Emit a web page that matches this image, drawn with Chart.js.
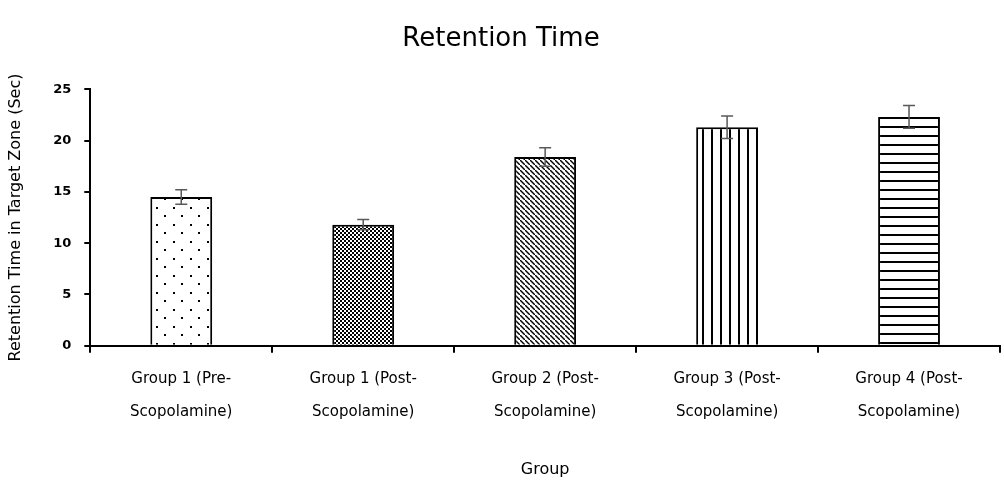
<!doctype html>
<html lang="en">
  <head>
    <meta charset="utf-8">
    <title>Retention Time</title>
    <style>
      * { margin: 0; padding: 0; }
      body { background: #fff; }
      .chartBox { width: 1004px; height: 483px; }
    </style>
  </head>
  <body>
    <div class="chartBox">
      <canvas id="myChart"></canvas>
    </div>
    <script src="https://cdn.jsdelivr.net/npm/chart.js/dist/chart.umd.min.js"></script>
    <script>
    const groups = [
      ['Group 1 (Pre-', 'Scopolamine)'],
      ['Group 1 (Post-', 'Scopolamine)'],
      ['Group 2 (Post-', 'Scopolamine)'],
      ['Group 3 (Post-', 'Scopolamine)'],
      ['Group 4 (Post-', 'Scopolamine)']
    ];
    const retention = [14.5, 11.8, 18.4, 21.3, 22.3];
    const errors = [0.7, 0.5, 0.9, 1.1, 1.1];
    const yTicks = [0, 5, 10, 15, 20, 25];

    // fill patterns for each bar
    function makePattern(kind) {
      const c = document.createElement('canvas');
      const p = c.getContext('2d');
      let w = 8, h = 8;
      if (kind == 'dots') { w = 17; h = 17; }
      if (kind == 'check') { w = 4; h = 4; }
      if (kind == 'diag') { w = 5; h = 5; }
      if (kind == 'vert') { w = 8.5; h = 4; }
      if (kind == 'horiz') { w = 4; h = 8.5; }
      c.width = Math.round(w); c.height = Math.round(h);
      p.fillStyle = '#fff';
      p.fillRect(0, 0, c.width, c.height);
      p.fillStyle = '#000';
      if (kind == 'dots') {
        p.fillRect(3, 3, 2, 2);
        p.fillRect(11, 11, 2, 2);
      } else if (kind == 'check') {
        p.fillRect(0, 0, 2, 2);
        p.fillRect(2, 2, 2, 2);
      } else if (kind == 'diag') {
        for (let t = 0; t < 5; t++) {
          p.fillRect(t, t, 1.5, 1.5);
        }
      } else if (kind == 'vert') {
        p.fillRect(0, 0, 2, c.height);
      } else if (kind == 'horiz') {
        p.fillRect(0, 0, c.width, 2);
      }
      return p.createPattern(c, 'repeat');
    }

    const fills = [
      makePattern('dots'),
      makePattern('check'),
      makePattern('diag'),
      makePattern('vert'),
      makePattern('horiz')
    ];

    // draws the error bars on top of the bars
    const errorBars = {
      id: 'errorBars',
      afterDatasetsDraw(chart) {
        const ctx = chart.ctx;
        const y = chart.scales.y;
        const meta = chart.getDatasetMeta(0);
        ctx.save();
        ctx.strokeStyle = '#595959';
        ctx.lineWidth = 1.5;
        meta.data.forEach((bar, i) => {
          const x = bar.x;
          const top = y.getPixelForValue(retention[i] + errors[i]);
          const bot = y.getPixelForValue(retention[i] - errors[i]);
          ctx.beginPath();
          ctx.moveTo(x, top); ctx.lineTo(x, bot);
          ctx.moveTo(x - 6, top); ctx.lineTo(x + 6, top);
          ctx.moveTo(x - 6, bot); ctx.lineTo(x + 6, bot);
          ctx.stroke();
        });
        ctx.restore();
      }
    };

    const font = 'Tahoma, "DejaVu Sans", sans-serif';

    const config = {
      type: 'bar',
      data: {
        labels: groups,
        datasets: [{
          data: retention,
          backgroundColor: fills,
          borderColor: '#000',
          borderWidth: 2,
          barPercentage: 0.34,
          categoryPercentage: 1.0
        }]
      },
      options: {
        responsive: true,
        maintainAspectRatio: false,
        animation: false,
        devicePixelRatio: 1,
        layout: { padding: { left: 2, right: 4, top: 10, bottom: 0 } },
        plugins: {
          legend: { display: false },
          tooltip: { enabled: false },
          title: {
            display: true,
            text: 'Retention Time',
            color: '#000',
            font: { family: font, size: 26, weight: 'normal' },
            padding: { top: 14, bottom: 34 }
          }
        },
        scales: {
          x: {
            grid: { drawOnChartArea: false, color: '#000', lineWidth: 2, tickLength: 7, offset: true },
            border: { color: '#000', width: 2 },
            ticks: {
              color: '#000',
              font: { family: font, size: 15, lineHeight: 2.2 },
              padding: 10,
              maxRotation: 0
            },
            title: {
              display: true,
              text: 'Group',
              color: '#000',
              font: { family: font, size: 16 },
              padding: { top: 21 }
            }
          },
          y: {
            min: 0,
            max: 25,
            afterBuildTicks(axis) {
              axis.ticks = yTicks.map(v => ({ value: v }));
            },
            grid: { drawOnChartArea: false, color: '#000', lineWidth: 2, tickLength: 6 },
            border: { color: '#000', width: 2 },
            ticks: {
              color: '#000',
              font: { family: font, size: 13, weight: 'bold' },
              padding: 13
            },
            title: {
              display: true,
              text: 'Retention Time in Target Zone (Sec)',
              color: '#000',
              font: { family: font, size: 16 },
              padding: { bottom: 15 }
            }
          }
        }
      },
      plugins: [errorBars]
    };

    const myChart = new Chart(document.getElementById('myChart'), config);
    </script>
  </body>
</html>
